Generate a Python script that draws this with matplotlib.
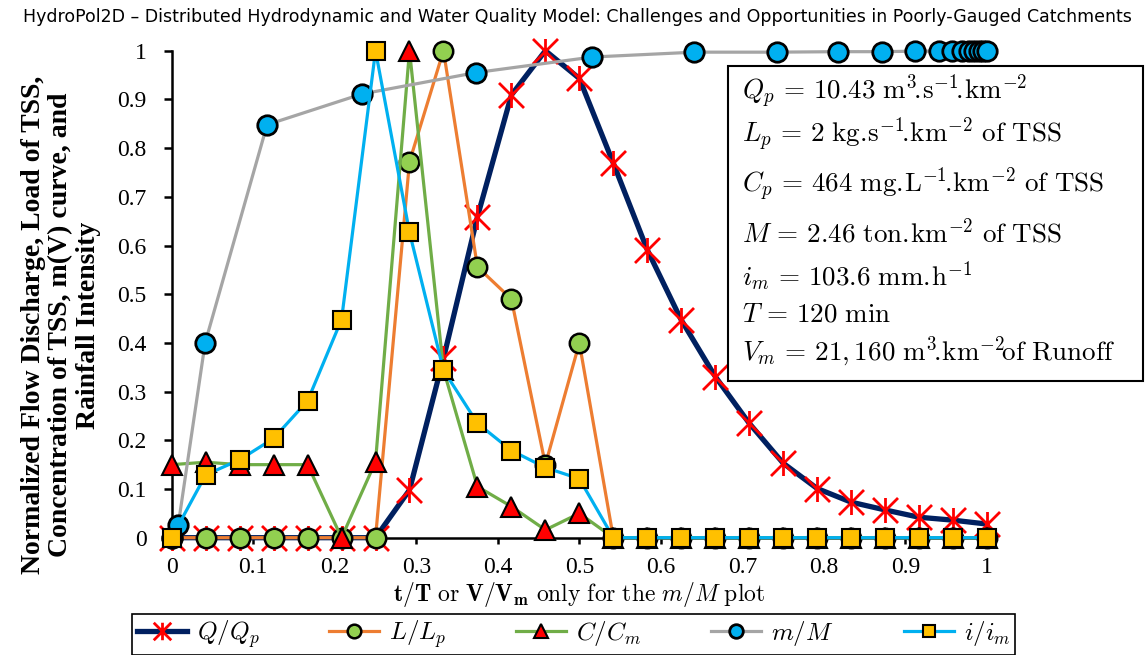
import matplotlib
matplotlib.use('Agg')
import matplotlib.pyplot as plt
from matplotlib.path import Path
from matplotlib.patches import Rectangle

plt.rcParams['mathtext.fontset'] = 'cm'

# time axis t/T (5-min steps over 120 min)
t = [i / 24 for i in range(25)]

q_qp = [0, 0, 0, 0, 0, 0, 0, 0.098, 0.368, 0.659, 0.909, 1.0, 0.943,
        0.769, 0.591, 0.447, 0.331, 0.235, 0.153, 0.101, 0.073, 0.057,
        0.042, 0.036, 0.028]
l_lp = [0, 0, 0, 0, 0, 0, 0, 0.772, 1.0, 0.556, 0.49, 0.15, 0.40,
        0, 0, 0, 0, 0, 0, 0, 0, 0, 0, 0, 0]
c_cm = [0.15, 0.155, 0.15, 0.15, 0.15, 0, 0.156, 1.0, 0.345, 0.105, 0.064,
        0.016, 0.05, 0, 0, 0, 0, 0, 0, 0, 0, 0, 0, 0, 0]
i_im = [0, 0.129, 0.16, 0.204, 0.281, 0.448, 1.0, 0.627, 0.344, 0.235,
        0.179, 0.144, 0.121, 0, 0, 0, 0, 0, 0, 0, 0, 0, 0, 0, 0]

# m(V) curve: V/Vm on x
v_vm = [0, 0.008, 0.041, 0.117, 0.233, 0.373, 0.516, 0.641, 0.742, 0.817,
        0.871, 0.912, 0.941, 0.957, 0.969, 0.978, 0.984, 0.990, 0.995, 1.0]
m_M = [0, 0.026, 0.40, 0.848, 0.911, 0.955, 0.987, 0.997, 0.997, 0.998,
       0.998, 0.999, 0.999, 0.999, 1.0, 1.0, 1.0, 1.0, 1.0, 1.0]

info_lines = [
    r'$Q_p\,=\,10.43\ \mathrm{m}^{3}\!.\!\mathrm{s}^{-1}\!.\!\mathrm{km}^{-2}$',
    r'$L_p\,=\,2\ \mathrm{kg}.\!\mathrm{s}^{-1}\!.\!\mathrm{km}^{-2}\ \mathrm{of\ TSS}$',
    r'$C_p\,=\,464\ \mathrm{mg}.\!\mathrm{L}^{-1}\!.\!\mathrm{km}^{-2}\ \mathrm{of\ TSS}$',
    r'$M\,=\,2.46\ \mathrm{ton}.\!\mathrm{km}^{-2}\ \mathrm{of\ TSS}$',
    r'$i_m\,=\,103.6\ \mathrm{mm}.\!\mathrm{h}^{-1}$',
    r'$T\,=\,120\ \mathrm{min}$',
    r'$V_m\,=\,21,160\ \mathrm{m}^{3}\!.\!\mathrm{km}^{-2}\!\mathrm{of\ Runoff}$',
]
info_y = [91.7, 135, 185, 233, 276.7, 315, 351.7]

W, H = 1146, 655
fig = plt.figure(figsize=(W / 100, H / 100), dpi=100)
ax = fig.add_axes([171.7 / W, 1 - 537.7 / H, (987 - 171.7) / W, (537.7 - 50.7) / H])

# Excel-like "star" marker: x with a vertical bar
star = Path([(-1, -1), (1, 1), (-1, 1), (1, -1), (0, -1), (0, 1)],
            [Path.MOVETO, Path.LINETO, Path.MOVETO, Path.LINETO, Path.MOVETO, Path.LINETO])

ax.plot(t, q_qp, color='#002060', lw=3.8, marker=star, ms=18, mfc='none',
        mec='#FF0000', mew=2.0, label=r'$Q/Q_p$', clip_on=False, zorder=3)
ax.plot(t, l_lp, color='#ED7D31', lw=2.3, marker='o', ms=14, mfc='#92D050',
        mec='black', mew=1.8, label=r'$L/L_p$', clip_on=False, zorder=4)
ax.plot(t, c_cm, color='#70AD47', lw=2.3, marker='^', ms=14, mfc='#FF0000',
        mec='black', mew=1.5, label=r'$C/C_m$', clip_on=False, zorder=5)
ax.plot(v_vm, m_M, color='#A5A5A5', lw=2.3, marker='o', ms=14, mfc='#00B0F0',
        mec='black', mew=2.0, label=r'$m/M$', clip_on=False, zorder=6)
ax.plot(t, i_im, color='#00B0F0', lw=2.3, marker='s', ms=12.5, mfc='#FFC000',
        mec='black', mew=1.5, label=r'$i/i_m$', clip_on=False, zorder=7)

ax.set_xlim(0, 1)
ax.set_ylim(0, 1)
ax.set_xticks([i / 10 for i in range(11)])
ax.set_yticks([i / 10 for i in range(11)])
ax.set_xticklabels(['0'] + ['%.1f' % (i / 10) for i in range(1, 10)] + ['1'])
ax.set_yticklabels(['0'] + ['%.1f' % (i / 10) for i in range(1, 10)] + ['1'])
for lab in ax.get_xticklabels() + ax.get_yticklabels():
    lab.set_fontfamily('Liberation Serif')
    lab.set_fontsize(17)
ax.tick_params(axis='x', direction='out', length=4, width=1.8, pad=10)
ax.tick_params(axis='y', direction='out', length=6, width=1.8, pad=12)
for side in ['top', 'right']:
    ax.spines[side].set_visible(False)
for side in ['left', 'bottom']:
    ax.spines[side].set_linewidth(1.8)

ax.set_xlabel(r'$\mathbf{t}/\mathbf{T}\ \mathrm{or}\ \mathbf{V}/\mathbf{V_m}\ '
              r'\mathrm{only\ for\ the}\ m/M\ \mathrm{plot}$', fontsize=17, labelpad=1)

fig.text(61 / W, 1 - 325 / H,
         'Normalized Flow Discharge, Load of TSS,\nConcentration of TSS, m(V) curve, and\nRainfall Intensity',
         rotation=90, ha='center', va='center', multialignment='center',
         fontfamily='Liberation Serif', fontweight='bold', fontsize=20, linespacing=1.15)

fig.text(0.5 * (20 + 1135) / W, 1 - 17 / H,
         'HydroPol2D \u2013 Distributed Hydrodynamic and Water Quality Model: '
         'Challenges and Opportunities in Poorly-Gauged Catchments',
         ha='center', va='center', fontsize=12.5, family='DejaVu Sans')

# parameter box
box = Rectangle((728.3 / W, 1 - 381 / H), (1143 - 728.3) / W, (381 - 66) / H,
                transform=fig.transFigure, facecolor='white', edgecolor='black',
                lw=1.5, zorder=10)
fig.patches.append(box)
for line, y in zip(info_lines, info_y):
    fig.text(741.7 / W, 1 - y / H, line, ha='left', va='center', fontsize=19.5, zorder=11)

leg = fig.legend(loc='center', bbox_to_anchor=(573.5 / W, 1 - 634.5 / H), ncol=5,
                 fontsize=18, frameon=True, fancybox=False, edgecolor='black',
                 framealpha=1, handlelength=2.0, columnspacing=2.8, handletextpad=0.4,
                 borderpad=0.2, markerscale=0.7)
leg.get_frame().set_linewidth(1.2)

fig.savefig('out.png', dpi=100)
